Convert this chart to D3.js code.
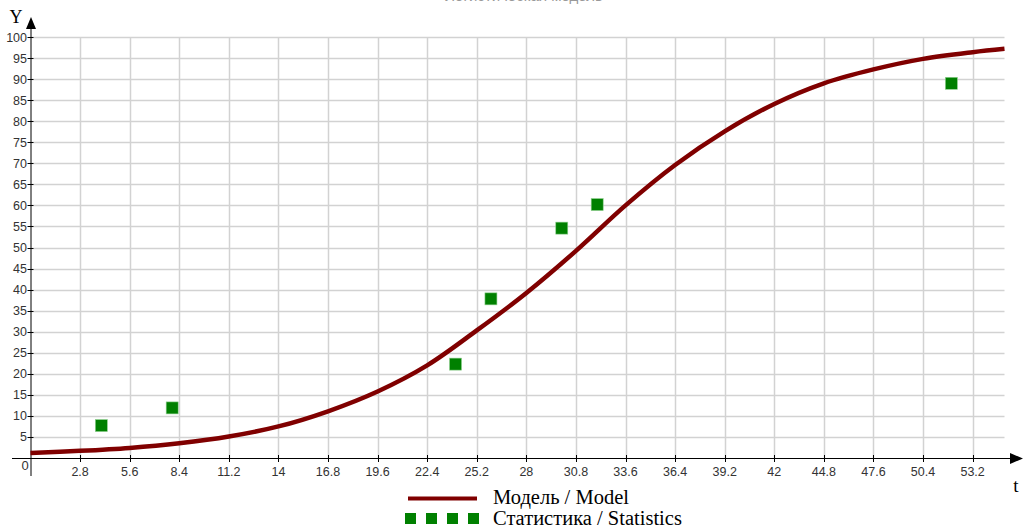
<!DOCTYPE html>
<html lang="ru">
<head>
  <meta charset="utf-8">
  <title>Модель / Model</title>
  <script src="https://cdnjs.cloudflare.com/ajax/libs/d3/7.8.5/d3.min.js"></script>
  <style>
  body { margin: 0; background: #fff; }
  #chart { display: block; }
  .tick-label { font-family: 'Liberation Sans', Arial, sans-serif; font-size: 12.5px; fill: #333; }
  .serif { font-family: 'Liberation Serif', 'Times New Roman', serif; fill: #000; }
  </style>
</head>
<body>
  <svg id="chart"></svg>
  <script>
  // model curve
  var modelT = [0, 2.8, 5.6, 8.4, 11.2, 14, 16.8, 19.6, 22.4, 25.2, 28, 30.8, 33.6, 36.4, 39.2, 42, 44.8, 47.6, 50.4, 53.2, 55];
  var modelY = [1.2, 1.7, 2.4, 3.5, 5.1, 7.5, 11.1, 15.8, 22, 30.3, 39.2, 49.2, 60, 69.6, 77.6, 84.1, 89, 92.3, 94.8, 96.4, 97.2];
  // statistics
  var statT = [4, 8, 24, 26, 30, 32, 52];
  var statY = [7.7, 11.9, 22.3, 37.8, 54.6, 60.2, 89];
  var xTicks = [2.8, 5.6, 8.4, 11.2, 14, 16.8, 19.6, 22.4, 25.2, 28, 30.8, 33.6, 36.4, 39.2, 42, 44.8, 47.6, 50.4, 53.2];
  var yTicks = [5, 10, 15, 20, 25, 30, 35, 40, 45, 50, 55, 60, 65, 70, 75, 80, 85, 90, 95, 100];

  var w = 1027, h = 530;
  var svg = d3.select("#chart").attr("width", w).attr("height", h);

  var x = d3.scaleLinear().domain([0, 55]).range([30.5, 1004.5]);
  var y = d3.scaleLinear().domain([0, 100]).range([458, 37]);

  // title (cut off at top, as in the original)
  svg.append("text")
    .attr("x", 524).attr("y", 1)
    .attr("text-anchor", "middle")
    .style("font-family", "Liberation Sans, Arial")
    .style("font-size", "15px")
    .style("fill", "#999")
    .text("Логистическая модель");

  // grid
  var grid = svg.append("g").attr("stroke", "#d2d2d2").attr("stroke-width", 1.5);
  grid.selectAll(".gx").data(xTicks).enter().append("line")
    .attr("x1", function(d) { return Math.round(x(d)) + 0.5; })
    .attr("x2", function(d) { return Math.round(x(d)) + 0.5; })
    .attr("y1", y(100)).attr("y2", y(0));
  grid.selectAll(".gy").data(yTicks).enter().append("line")
    .attr("y1", function(d) { return Math.round(y(d)) + 0.5; })
    .attr("y2", function(d) { return Math.round(y(d)) + 0.5; })
    .attr("x1", x(0)).attr("x2", x(55));

  // axes lines
  var ax = svg.append("g").attr("stroke", "#000").attr("stroke-width", 1);
  ax.append("line").attr("x1", 12).attr("x2", 1012).attr("y1", y(0) + 0.5).attr("y2", y(0) + 0.5);
  ax.append("line").attr("x1", x(0) + 0.5).attr("x2", x(0) + 0.5).attr("y1", 476).attr("y2", 26);
  svg.append("path").attr("d", "M1010,453 L1023,458.5 L1010,464 Z").attr("fill", "#000");
  svg.append("path").attr("d", "M26,29 L31,17 L36,29 Z").attr("fill", "#000");

  ax.selectAll(".tx").data(xTicks).enter().append("line")
    .attr("x1", function(d) { return Math.round(x(d)) + 0.5; })
    .attr("x2", function(d) { return Math.round(x(d)) + 0.5; })
    .attr("y1", y(0) - 3).attr("y2", y(0) + 4);
  ax.selectAll(".ty").data(yTicks).enter().append("line")
    .attr("y1", function(d) { return Math.round(y(d)) + 0.5; })
    .attr("y2", function(d) { return Math.round(y(d)) + 0.5; })
    .attr("x1", x(0) - 3).attr("x2", x(0) + 3);

  svg.selectAll(".lx").data(xTicks).enter().append("text")
    .attr("class", "tick-label")
    .attr("x", function(d) { return x(d); })
    .attr("y", 476)
    .attr("text-anchor", "middle")
    .text(function(d) { return d; });
  svg.selectAll(".ly").data(yTicks).enter().append("text")
    .attr("class", "tick-label")
    .attr("x", 27)
    .attr("y", function(d) { return y(d) + 4.5; })
    .attr("text-anchor", "end")
    .text(function(d) { return d; });
  svg.append("text").attr("class", "tick-label")
    .attr("x", 25).attr("y", 470).attr("text-anchor", "middle").style("font-size", "13px").text("0");

  svg.append("text").attr("class", "serif").attr("x", 16).attr("y", 23)
    .attr("text-anchor", "middle").style("font-size", "18px").text("Y");
  svg.append("text").attr("class", "serif").attr("x", 1016).attr("y", 492)
    .attr("text-anchor", "middle").style("font-size", "19px").text("t");

  // model line
  var line = d3.line()
    .x(function(d, i) { return x(modelT[i]); })
    .y(function(d) { return y(d); })
    .curve(d3.curveCatmullRom);
  svg.append("path")
    .datum(modelY)
    .attr("d", line)
    .attr("fill", "none")
    .attr("stroke", "#800000")
    .attr("stroke-width", 4.5);

  // statistics points
  svg.selectAll(".pt").data(statY).enter().append("rect")
    .attr("x", function(d, i) { return x(statT[i]) - 6; })
    .attr("y", function(d) { return y(d) - 6; })
    .attr("width", 12).attr("height", 12)
    .attr("fill", "#008000")
    .attr("stroke", "#8fd08f").attr("stroke-width", 0.6);

  // legend
  svg.append("line").attr("x1", 408).attr("x2", 477).attr("y1", 498.5).attr("y2", 498.5)
    .attr("stroke", "#800000").attr("stroke-width", 4);
  svg.append("text").attr("class", "serif").attr("x", 493).attr("y", 503.5)
    .style("font-size", "20.5px").text("Модель / Model");
  svg.selectAll(".lg").data([405, 426, 447, 468]).enter().append("rect")
    .attr("x", function(d) { return d; }).attr("y", 513)
    .attr("width", 11).attr("height", 11)
    .attr("fill", "#008000");
  svg.append("text").attr("class", "serif").attr("x", 493).attr("y", 524.5)
    .style("font-size", "20.5px").text("Статистика / Statistics");
  </script>
</body>
</html>
